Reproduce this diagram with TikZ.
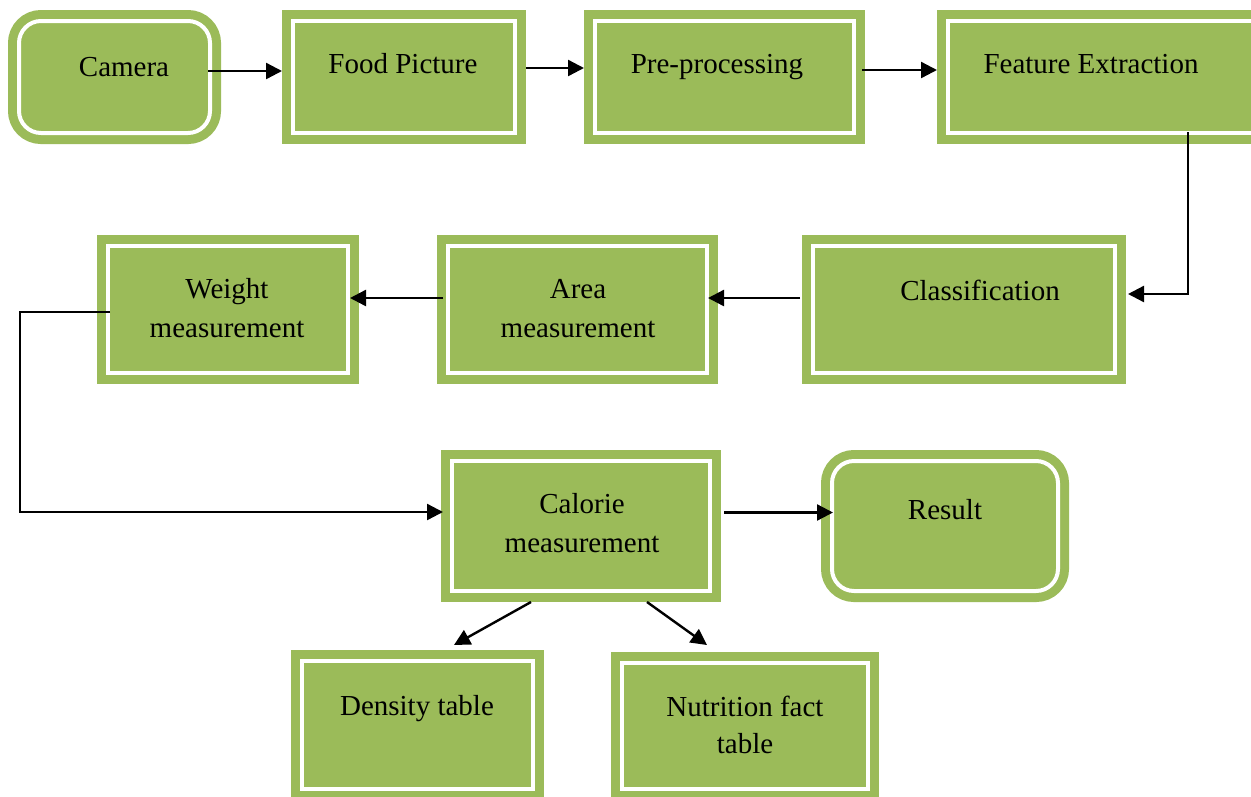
\documentclass[tikz,border=0pt]{standalone}
\usepackage{fontspec}
\setmainfont{Liberation Serif}
\usetikzlibrary{arrows.meta}
\definecolor{leaf}{HTML}{9BBB59}
\tikzset{
  box/.style={draw=leaf, fill=leaf, double=white, line width=9pt,
    double distance=4pt, inner sep=0pt, outer sep=11pt},
  roundbox/.style={box, rounded corners=22pt},
  txt/.style={font=\fontsize{29}{39}\selectfont, inner sep=0pt, align=center},
  arr/.style={draw=black, line width=2.4pt,
    -{Triangle[length=16pt,width=16pt]}},
}
\begin{document}
\begin{tikzpicture}[x=1pt,y=-1pt]
\useasboundingbox (0,0) rectangle (1251,796);

% first row
\node[roundbox, minimum width=191pt, minimum height=112pt] (cam)  at (114.5,77) {};
\node[box, minimum width=222pt, minimum height=112pt] (food) at (404,77) {};
\node[box, minimum width=259pt, minimum height=112pt] (pre)  at (724.5,77) {};
\node[box, minimum width=311pt, minimum height=112pt] (feat) at (1103.5,77) {};

% second row
\node[box, minimum width=302pt, minimum height=127pt] (class)  at (964,309.5) {};
\node[box, minimum width=259pt, minimum height=127pt] (area)   at (577.5,309.5) {};
\node[box, minimum width=240pt, minimum height=127pt] (weight) at (228,309.5) {};

% third row
\node[box, minimum width=258pt, minimum height=130pt] (cal)    at (581,526) {};
\node[roundbox, minimum width=226pt, minimum height=130pt] (result) at (945,526) {};

% tables
\node[box, minimum width=231pt, minimum height=128pt] (dens) at (417.5,725) {};
\node[box, minimum width=246pt, minimum height=126pt] (nutr) at (745,726) {};

% labels
\node[txt, anchor=base] (cam-t)  at (124,76)  {Camera};
\node[txt, anchor=base] (food-t) at (403,73)  {Food Picture};
\node[txt, anchor=base] (pre-t)  at (717,73)  {Pre-processing};
\node[txt, anchor=base] (feat-t) at (1091,73) {Feature Extraction};
\node[txt, anchor=base] (class-t) at (980,300) {Classification};
\node[txt, anchor=base] (area-t1) at (578,298) {Area};
\node[txt, anchor=base] (area-t2) at (578,337) {measurement};
\node[txt, anchor=base] (weight-t1) at (227,298) {Weight};
\node[txt, anchor=base] (weight-t2) at (227,337) {measurement};
\node[txt, anchor=base] (cal-t1) at (582,513) {Calorie};
\node[txt, anchor=base] (cal-t2) at (582,552) {measurement};
\node[txt, anchor=base] (result-t) at (945,519) {Result};
\node[txt, anchor=base] (dens-t) at (417,715) {Density table};
\node[txt, anchor=base] (nutr-t1) at (745,716) {Nutrition fact};
\node[txt, anchor=base] (nutr-t2) at (745,753) {table};

% connectors
\draw[arr] ([xshift=-13pt,yshift=6pt]cam.east) -- ([yshift=6pt]food.west);
\draw[arr] ([yshift=9pt]food.east) -- ([yshift=9pt]pre.west);
\draw[arr] ([xshift=-3pt,yshift=7pt]pre.east) -- ([yshift=7pt]feat.west);
\draw[arr] ([xshift=84.5pt,yshift=12pt]feat.south) |- ([xshift=2pt,yshift=15.5pt]class.east);
\draw[arr] ([xshift=-2pt,yshift=11.5pt]class.west) -- ([xshift=-10pt,yshift=11.5pt]area.east);
\draw[arr] ([xshift=6pt,yshift=11.5pt]area.west) -- ([xshift=-9pt,yshift=11.5pt]weight.east);
\coordinate (lane) at (20,512);
\draw[arr, line join=miter] ([xshift=13pt,yshift=-2.5pt]weight.west) -| (lane) -- ([xshift=2pt,yshift=14pt]cal.west);
\draw[arr] ([xshift=3pt,yshift=13.5pt]cal.east) -- ([xshift=12pt,yshift=13.5pt]result.west);
\draw[arr] ([xshift=-50pt]cal.south) -- ([xshift=36.5pt,yshift=5pt]dens.north);
\draw[arr] ([xshift=66pt]cal.south) -- ([xshift=-38pt,yshift=7pt]nutr.north);
\end{tikzpicture}
\end{document}
